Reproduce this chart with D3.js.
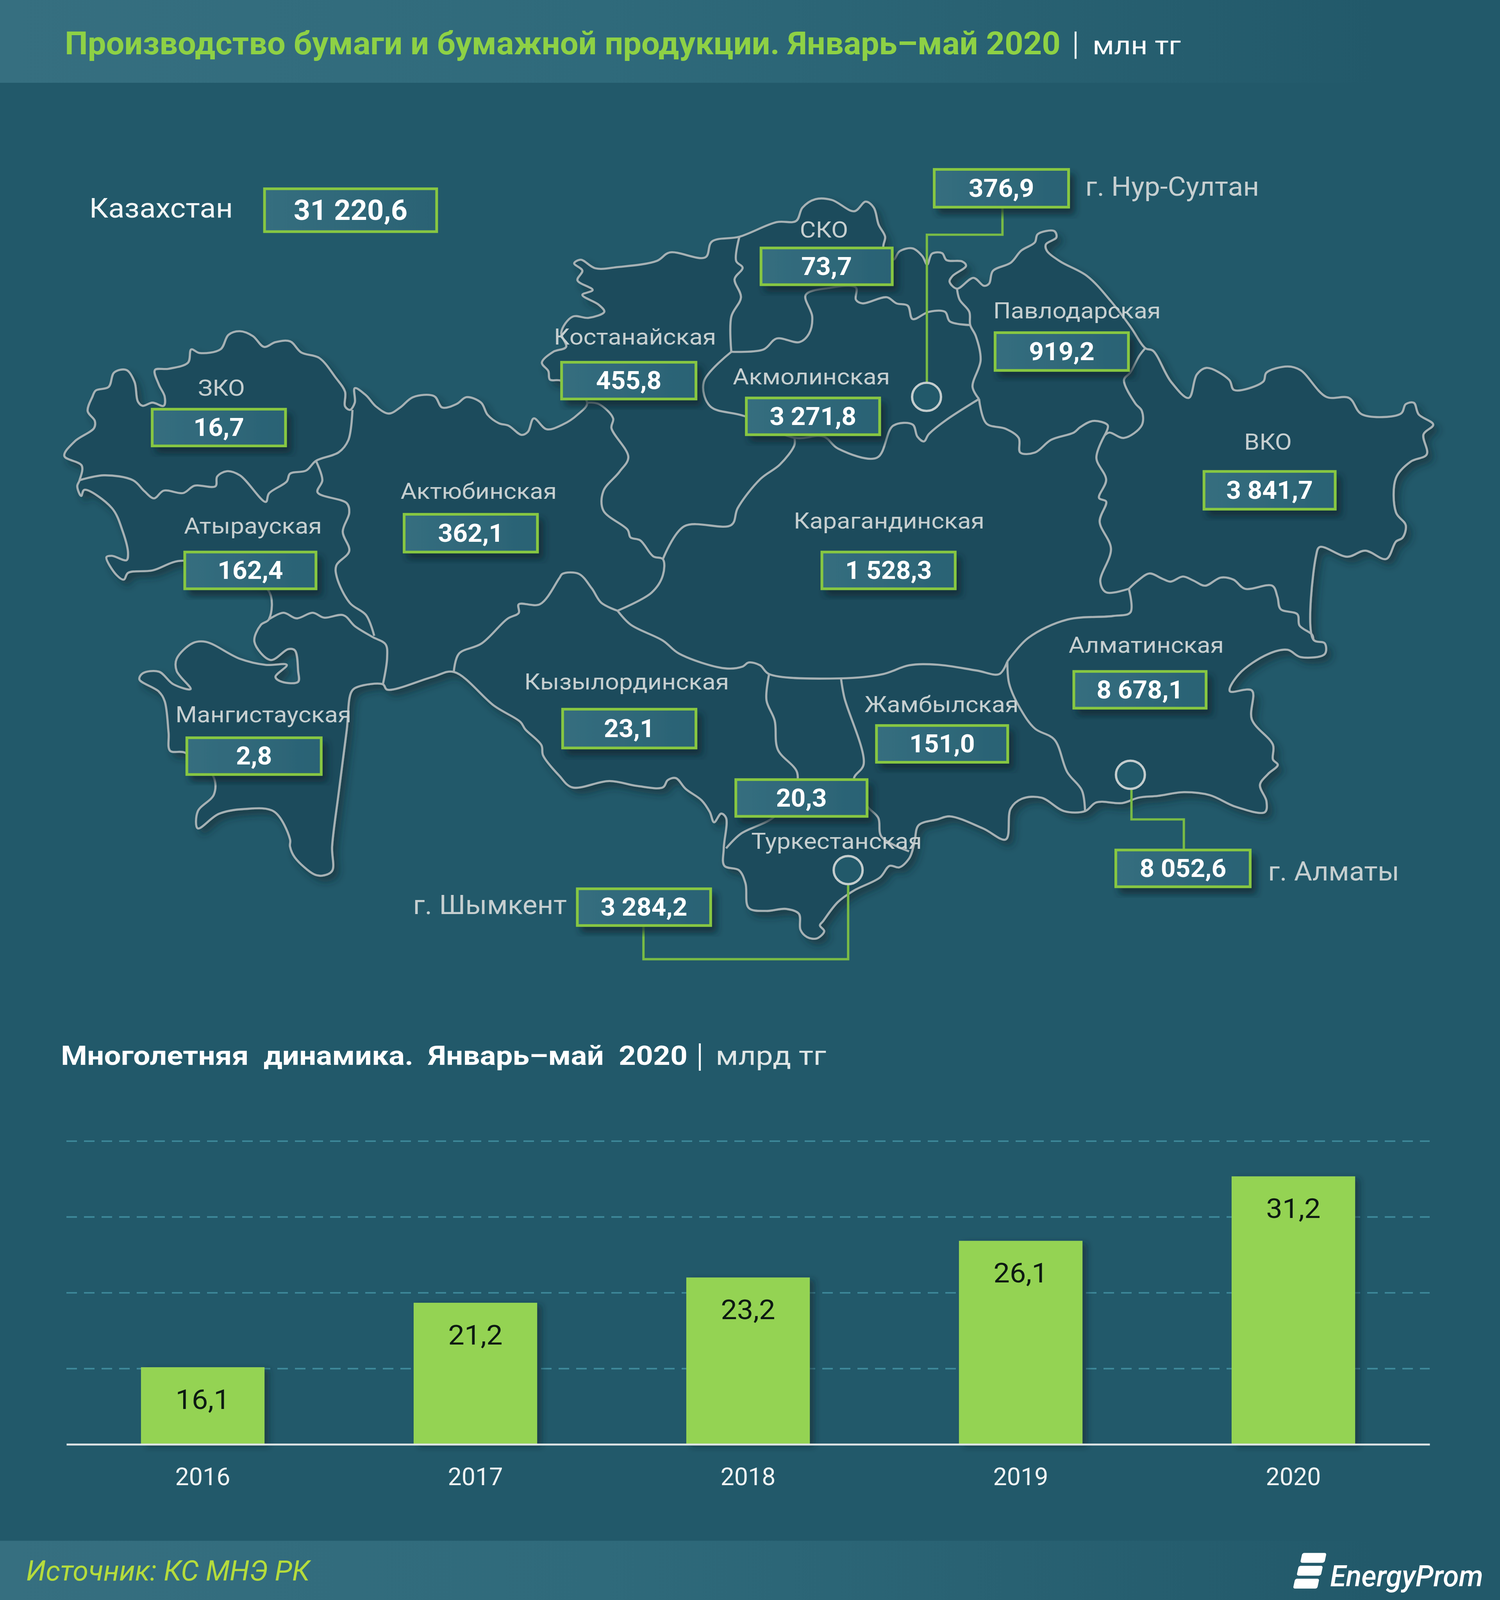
<!DOCTYPE html>
<html>
<head>
<meta charset="utf-8">
<script src="https://cdn.jsdelivr.net/npm/d3@7"></script>
<style>
  html, body { margin: 0; padding: 0; background: #22596a; overflow: hidden; }
  svg { display: block; width: 100vw; height: 100vh; }
  text { font-family: Roboto, "Noto Sans", sans-serif; }
</style>
</head>
<body>
<div id="chart"></div>
<script>
// values, million tenge
var regionNames = ["ЗКО", "Атырауская", "Мангистауская", "Актюбинская", "Костанайская", "СКО", "Акмолинская",
  "Павлодарская", "Карагандинская", "ВКО", "Алматинская", "Жамбылская", "Кызылординская", "Туркестанская"];
var regionValues = ["16,7", "162,4", "2,8", "362,1", "455,8", "73,7", "3 271,8",
  "919,2", "1 528,3", "3 841,7", "8 678,1", "151,0", "23,1", "20,3"];
var cityNames = ["г. Нур-Султан", "г. Алматы", "г. Шымкент"];
var cityValues = ["376,9", "8 052,6", "3 284,2"];
var totalName = "Казахстан";
var totalValue = "31 220,6";

// yearly dynamics, billion tenge
var years = ["2016", "2017", "2018", "2019", "2020"];
var yearValues = [16.1, 21.2, 23.2, 26.1, 31.2];
var gridTicks = [16, 22, 28, 34];

// map outline and inner borders (units of a 1429 x 1568 frame)
var outline = [[61.3,446.9],[71.1,432.6],[89.6,419.5],[90.3,412.4],[83.5,402.9],[88.1,388.7],[91.2,382.7],[103.5,379.2],[108.8,365],[120.5,362.6],[128.2,374.4],[131.3,393.4],[135.9,397.7],[145.2,394.6],[156,397.7],[156.9,388.7],[151.3,376.8],[147.6,362.6],[160.6,361.4],[179.1,355.4],[182.2,342.4],[189.9,345.9],[210,342.4],[217.7,328.1],[228.5,324.6],[240.8,329.3],[251.6,340],[262.4,335.3],[276.3,334.5],[287.1,345.5],[304,350.7],[319.5,369.7],[328.7,383.9],[328.7,398.2],[333.4,401.7],[338,394.6],[338,380.4],[348.8,387.5],[358,398.2],[370.4,405.3],[381.2,399.4],[393.5,389.2],[413.6,388.2],[421.3,399.4],[435.2,395.8],[444.4,389.2],[458.3,394.6],[464.5,406.5],[475.3,414.8],[484.5,417.2],[496.9,426.2],[503,423.1],[508.5,410],[520.8,420.7],[536.2,416],[550.1,406.5],[559.4,394.6],[534.7,373.2],[523.9,372],[522.4,363.7],[516.2,355.4],[527,344.8],[539.3,340],[534.7,325.8],[545.5,310.3],[560.9,311.5],[575.7,305.6],[570.2,298.5],[554.8,289],[564.6,284.2],[550.1,274.7],[554.8,265.2],[547,258.1],[553.2,254.5],[567.1,262.9],[588.7,261.7],[625.7,255.7],[638,247.4],[672,252.2],[678.2,236.7],[704.4,232],[739.9,217.7],[758.4,216.6],[764.5,203.5],[776.9,195.2],[792.3,195.9],[813.9,207],[824.7,197.6],[832.4,203.5],[837,220.1],[843.2,232],[841.6,242.7],[851,254.5],[857.1,246.2],[869.4,243.4],[878.7,251],[883.3,259.3],[887.9,248.6],[897.5,248.1],[901.7,254.9],[916.7,256.2],[920.3,260.5],[907.4,270.5],[904.6,276],[911.7,282.9],[927.4,272.3],[937.3,280.1],[942.3,277.9],[945.9,265.5],[963,257.4],[972.9,245.6],[985.8,237.6],[988.6,229.5],[1004.3,226.4],[1006.4,232.6],[996.4,239.4],[997.2,245.6],[1010,256.2],[1035.6,270.5],[1058.4,295.3],[1076.9,320.1],[1091.1,341.2],[1098.5,343.8],[1115.5,374],[1132.5,390],[1140.2,367],[1149.4,360.5],[1171,372.3],[1175.7,382.2],[1203.4,374],[1206.5,365.2],[1226.6,359.1],[1238.9,362.7],[1263.6,389],[1285.2,390],[1297.5,406.1],[1334.5,405.4],[1339.2,396.1],[1346.9,394.7],[1351.5,406.1],[1365.4,416.1],[1356.1,425.7],[1359.2,445.3],[1343.8,452.4],[1329.9,468.4],[1329.9,502.2],[1339.2,514.7],[1336.1,527.1],[1329.9,530.7],[1320.6,547.8],[1300.6,539.6],[1283.6,545.6],[1257.4,536],[1253.7,545],[1251.2,626.8],[1262,630.4],[1262,641],[1238.9,643.9],[1226.6,636.8],[1208,641],[1180.3,660.6],[1171.6,677.4],[1192.6,676.7],[1192.6,705.1],[1212.7,730],[1212.7,744.3],[1217.3,749.6],[1208,758.5],[1200.3,769.2],[1206.5,785.2],[1205,795.9],[1177.2,790.6],[1152.5,779.2],[1127.8,776.3],[1103.2,779.9],[1084.7,781.7],[1069.2,787],[1044.5,786.3],[1033.7,794.9],[1013.7,794.9],[992.1,781.7],[973.6,782.7],[962.8,792.4],[958.2,822.6],[936.6,811.9],[905,800],[893,803],[875.2,808.6],[871.5,822.9],[869,834.3],[866,841.4],[856.7,850],[847.5,848.5],[838.2,860],[813.5,872.7],[798.1,884.1],[784.2,902.6],[781.1,906.9],[785.2,912.6],[778,919.7],[768.8,918.3],[762.6,911.2],[761.1,895.5],[748.8,890.7],[730.2,892.7],[713.3,889.8],[710.2,865.6],[704,852.8],[690.1,848.5],[689.5,831.4],[691.7,801.5],[687,797.3],[680.3,805.8],[676.2,795.8],[668.5,784.4],[653.1,773],[643.9,762.5],[636.1,764.5],[631.5,771.6],[606.8,770.2],[580.6,765.4],[545.1,771.6],[532.8,760.2],[517.4,740.3],[515.8,730.3],[500.4,714.7],[495.8,707.5],[471.1,691.9],[432.3,658.5],[412,663.4],[368.8,675.8],[364.8,670.6],[341.1,673],[334.9,677.7],[330.3,715.7],[322.6,777.4],[316.4,829.6],[316.4,853.4],[307.1,858.1],[299.4,856.9],[280.9,840.3],[276.3,829.6],[276.3,822.5],[260.9,795.2],[233.1,792.8],[208.4,797.6],[188.4,811.8],[188.4,795.2],[203.8,778.6],[203.2,760.8],[176,737.5],[162.1,735.8],[160.6,718],[156.9,687.2],[151.3,677.7],[132.8,665.8],[135.9,659.9],[151.3,658.2],[165.2,670.6],[181.6,675.3],[168.3,657.5],[168.3,645.6],[183.7,630.2],[196.1,629],[228.5,645.6],[253.2,651.6],[273.2,651.6],[262.4,663.4],[268.6,668.2],[284,668.2],[284,657.5],[280.9,637.3],[274.7,636.1],[257.8,646.8],[242.4,629],[248.5,612.4],[256.2,606.9],[255.3,578],[174.5,549.5],[145.2,559],[122,561.4],[118,568],[111.2,563.7],[101.4,546],[106.6,544.7],[120.5,549],[122,542.4],[117,521],[106.6,497.9],[80.4,480],[77.3,486],[73.6,476.5],[75.8,470.6],[77.9,456.3]];

var innerBorders = [
  // ЗКО south
  [[75.8,470.6],[98.9,465.8],[126.7,470.6],[137.5,481.3],[146.7,488.4],[156,480.8],[174.5,483.2],[185.3,476],[205.3,476.5],[206.9,467],[216.1,461.8],[228.5,465.8],[253.2,491.9],[256.2,483.6],[273.2,471.8],[276.3,464.2],[291.7,461.1],[301,451.6],[322.6,443.3],[331.8,431.4],[335.8,401.7]],
  // Атырауская / Актюбинская
  [[301,451.6],[307.1,470.6],[302.5,482.5],[330.3,493.1],[332.7,502.6],[326.5,521],[332.7,540],[320.4,554.2],[321,566.1],[333.4,591],[348.8,602.9],[356.5,623.1]],
  // Атырауская / Мангистауская
  [[256.2,606.9],[270.1,600.5],[282.5,606],[297.9,600.5],[308.7,605.3],[327.2,602.9],[338,613.6],[355,624.3],[367.3,631.4],[368.8,644.4],[364.8,670.6]],
  // Актюбинская / Костанайская
  [[559.4,394.6],[570.2,395.8],[584.1,410],[582.5,419.5],[598.6,448],[590.2,462.3],[574.8,481.3],[574.8,500.3],[597.9,519.2],[600.7,526.7],[609.9,529.5],[622.3,545.2],[631.5,548],[631.5,563.7],[620.7,580.8],[588.3,598.5]],
  // Актюбинская / Кызылординская
  [[432.3,658.5],[437.2,640.6],[458.8,630.6],[483.4,606.4],[494.2,600.7],[494.2,592.2],[514.3,592.2],[532.8,566.6],[535.9,562.3],[551.3,562.3],[563.7,576.5],[572.9,590.8],[588.3,598.5]],
  // Кызылординская, Жамбылская / Карагандинская
  [[588.3,598.5],[600.7,612.1],[631.5,627.8],[647,640.6],[690.1,654.9],[707.1,653.4],[713.3,649.2],[724.1,652],[732.7,660.6],[801.2,664.8],[841.3,660.6],[866,652],[893.1,651.4],[930.4,657.1],[952,660.6],[959.7,648.2]],
  // Карагандинская / Алматинская
  [[959.7,648.2],[979.8,625],[1016.8,607.2],[1060,603.7],[1076.9,600.1],[1075.4,577]],
  // ВКО / Алматинская
  [[1075.4,577],[1084,569],[1095,562],[1107,567],[1115,570],[1127,565],[1137,569],[1148,574],[1163,566],[1175,568],[1186,577],[1212,574],[1217,585],[1220,597],[1236,602],[1238,613],[1250,622],[1251.2,626.8]],
  // Карагандинская / ВКО
  [[1075.4,577],[1053.8,580.5],[1048.2,569.9],[1058.4,537.8],[1047.6,511.1],[1053.8,491.5],[1047,488],[1053.8,470.2],[1044.5,448.8],[1052.3,426.7]],
  // Павлодарская / ВКО
  [[1052.3,426.7],[1056.9,423.9],[1070.8,429.2],[1087.7,416.8],[1087.7,402.5],[1081.6,395.4],[1070.8,372.3],[1076.9,364.8],[1085.4,348.6],[1091.1,341.2]],
  // Павлодарская / Карагандинская
  [[1052.3,426.7],[1055.3,416.8],[1041.5,412.5],[1029.1,418.6],[1023,423.9],[1001.4,431],[985.9,443.5],[972,443.5],[970.5,429.2],[958.2,420.3],[939.7,415],[932.7,391]],
  // Акмолинская / Павлодарская
  [[911.7,282.9],[914.2,293.7],[923.4,305.6],[924.3,318.6],[929.6,329.3],[934.2,353],[926.5,379.2],[932.7,391]],
  // Акмолинская / Карагандинская, Костанайская
  [[932.7,391],[900.3,412.4],[884.8,425.5],[880.2,432.6],[874,427.9],[869.4,416],[850.9,417.2],[835.5,448.5],[798.5,439.7],[784.6,427.8],[756.8,429],[709,407.7],[676.6,398.2],[670.4,374.4],[696.7,344.8]],
  // Костанайская / Карагандинская
  [[756.8,429],[756.8,436.2],[743,455.2],[724.4,469.4],[702.8,497.9],[696.7,514.5],[651.9,515.7],[631.5,548]],
  // Костанайская / СКО
  [[696.7,344.8],[696.7,310.3],[705.9,291.3],[699.8,273.5],[707.5,262.4],[701.3,255.7],[704.4,232]],
  // СКО / Акмолинская
  [[696.7,344.8],[727.5,342.4],[739.9,331.7],[761.5,335.3],[770.7,327],[773.8,310.3],[767.6,289],[789.2,282.3],[815.4,281.8],[815.4,293.7],[821.6,297.3],[844.8,291.3],[854,297.3],[864.8,299.6],[869.4,312.7],[884.9,305.6],[900.3,305.6],[904.9,315],[924.3,318.6]],
  // Кызылординская / Туркестанская
  [[732.7,660.6],[730.2,686.2],[738,706.1],[741,734.6],[759.5,757.4],[755,780],[736.4,801.5],[705.6,817.2],[691.7,831.4]],
  // Туркестанская / Жамбылская
  [[801.2,664.8],[804.3,683.3],[822.8,748.8],[813.5,763],[820,780],[827.4,791.6],[836.7,801.5],[839.8,820],[866,834.3]],
  // Жамбылская / Алматинская
  [[959.7,648.2],[961.3,669.6],[972,694.5],[985.9,714],[1004.4,724.7],[1016.8,756.8],[1030.7,774.6],[1033.7,794.9]]
];

// callouts from a city box to its ring on the map
var cityLinks = [
  [[955,203],[955,230],[883,230],[883,375]],
  [[1077.9,774],[1077.9,803],[1127.8,803],[1127.8,833]],
  [[613,907],[613,940],[808,940],[808,867]]
];
var cityRings = [[882.7,388.9],[1076.9,759.3],[808,852.7]];

// box corners [x0, x1, y0, y1] and label anchor [x, y], same frame as the map
var regionBoxes = [[145,272,401,437],[176,301,541,577],[178,306,723,759],[385,512,504,541],[535,663,355,391],[725,850,243,279],[711,838,390,426],
  [948,1075,326,363],[783,910,541,577],[1147,1272,462,499],[1023,1149,658,694],[835,960,711,747],[536,663,695,733],[701,826,764,800]];
var regionLabelPos = [[211,380],[241,515],[251,700],[456,481],[605,330],[785,225],[773,369],
  [1026,304],[847,510],[1208,433],[1092,632],[897,690],[597,668],[797,824]];
var cityBoxes = [[890,1018,166,203],[1063,1191,833,869],[550,677,871,907]];
var cityLabelPos = [[1034,183,"start"],[1208,854,"start"],[540,887,"end"]];

var width = 3840, height = 4214;
var x = d3.scaleLinear().domain([0, 1429]).range([0, width]);
var y = d3.scaleLinear().domain([0, 1568]).range([0, height]);

// the window can be shorter than the picture, so the whole frame is fitted to it
var svg = d3.select("#chart").append("svg")
  .attr("viewBox", [0, 0, width, height])
  .attr("preserveAspectRatio", "none");

var defs = svg.append("defs");

function shadow(id, dx, dy, blur, opacity) {
  var f = defs.append("filter").attr("id", id)
    .attr("x", "-20%").attr("y", "-20%").attr("width", "150%").attr("height", "150%");
  f.append("feDropShadow").attr("dx", dx).attr("dy", dy).attr("stdDeviation", blur)
    .attr("flood-color", "#0a2533").attr("flood-opacity", opacity);
}
shadow("mapShadow", 12, 14, 10, 0.55);
shadow("boxShadow", 12, 16, 9, 0.75);
shadow("barShadow", 12, 6, 8, 0.55);

function bandGradient(id) {
  var g = defs.append("linearGradient").attr("id", id);
  g.append("stop").attr("offset", "0%").attr("stop-color", "#366f80");
  g.append("stop").attr("offset", "40%").attr("stop-color", "#2f6a7b");
  g.append("stop").attr("offset", "92%").attr("stop-color", "#22596a");
}
bandGradient("bandGrad");
var boxGrad = defs.append("linearGradient").attr("id", "boxGrad");
boxGrad.append("stop").attr("offset", "0%").attr("stop-color", "#356e7f");
boxGrad.append("stop").attr("offset", "100%").attr("stop-color", "#2a6274");

// puts a text on the page and sets its width, the original face has other proportions
function label(parent, str, px, py, size, opts) {
  opts = opts || {};
  var t = parent.append("text")
    .attr("x", px).attr("y", py)
    .attr("font-size", size)
    .attr("font-weight", opts.weight || 400)
    .attr("font-style", opts.style || "normal")
    .attr("fill", opts.fill || "#ffffff")
    .attr("text-anchor", opts.anchor || "middle")
    .text(str);
  var len = opts.width || t.node().getComputedTextLength() * (opts.squeeze || 1);
  t.attr("textLength", len).attr("lengthAdjust", "spacingAndGlyphs");
  return t;
}

// background + bands
svg.append("rect").attr("width", width).attr("height", height).attr("fill", "#22596a");
svg.append("rect").attr("width", width).attr("height", 218).attr("fill", "url(#bandGrad)");
svg.append("rect").attr("y", 4058).attr("width", width).attr("height", height - 4058).attr("fill", "url(#bandGrad)");

// header
label(svg, "Производство бумаги и бумажной продукции. Январь–май 2020", 166, 143, 84,
  { weight: 700, fill: "#8ed145", anchor: "start", width: 2549 });
svg.append("rect").attr("x", 2751).attr("y", 83).attr("width", 5).attr("height", 72).attr("fill", "#eaf2f2");
label(svg, "млн тг", 2797, 143, 68, { anchor: "start", width: 226 });

// map
var mapLine = d3.line().x(d => x(d[0])).y(d => y(d[1]));
var map = svg.append("g");

map.append("path")
  .attr("d", mapLine.curve(d3.curveCatmullRomClosed.alpha(0.5))(outline))
  .attr("fill", "#1c4b5c")
  .attr("stroke", "#a6b1b4")
  .attr("stroke-width", 5.5)
  .attr("stroke-linejoin", "round")
  .attr("filter", "url(#mapShadow)");

map.selectAll(".border")
  .data(innerBorders)
  .join("path")
  .attr("class", "border")
  .attr("d", mapLine.curve(d3.curveCatmullRom.alpha(0.5)))
  .attr("fill", "none")
  .attr("stroke", "#a6b1b4")
  .attr("stroke-width", 5.5)
  .attr("stroke-linejoin", "round");

// callout lines and rings
var straight = d3.line().x(d => x(d[0])).y(d => y(d[1]));
map.selectAll(".link")
  .data(cityLinks)
  .join("path")
  .attr("class", "link")
  .attr("d", straight)
  .attr("fill", "none")
  .attr("stroke", "#79bb45")
  .attr("stroke-width", 6);

map.selectAll(".ring")
  .data(cityRings)
  .join("circle")
  .attr("class", "ring")
  .attr("cx", d => x(d[0]))
  .attr("cy", d => y(d[1]))
  .attr("r", 37)
  .attr("fill", "#22596a")
  .attr("stroke", "#c3cccd")
  .attr("stroke-width", 6);

// value boxes
function valueBox(box, value, size, useShadow) {
  var bx = x(box[0]), by = y(box[2]), bw = x(box[1]) - x(box[0]), bh = y(box[3]) - y(box[2]);
  svg.append("rect")
    .attr("x", bx).attr("y", by).attr("width", bw).attr("height", bh)
    .attr("fill", "url(#boxGrad)")
    .attr("stroke", "#87c742")
    .attr("stroke-width", 7)
    .attr("filter", useShadow ? "url(#boxShadow)" : null);
  label(svg, value, bx + bw / 2, by + bh / 2 + size * 0.34, size, { weight: 700, squeeze: 1 });
}

regionNames.forEach(function(name, i) {
  var p = regionLabelPos[i];
  label(svg, name, x(p[0]), y(p[1]) + 21, 60, { fill: "#c6cfd0", squeeze: 1.05 });
  valueBox(regionBoxes[i], regionValues[i], 66, true);
});

cityNames.forEach(function(name, i) {
  var p = cityLabelPos[i];
  label(svg, name, x(p[0]), y(p[1]) + 24, 70, { fill: "#c6cfd0", anchor: p[2], squeeze: 1.02 });
  valueBox(cityBoxes[i], cityValues[i], 66, true);
});

label(svg, totalName, x(85), y(204) + 25, 72, { fill: "#f2f5f5", anchor: "start", width: 368 });
valueBox([252, 416, 185, 227], totalValue, 74, false);

// bar chart
var barX = d3.scaleBand().domain(years).range([170, 3660]).paddingInner(0.547).paddingOuter(0.2735);
var barY = d3.scaleLinear().domain([10, 34]).range([3804, 3005]);

label(svg, "Многолетняя  динамика.  Январь–май  2020", 156, 2805, 70,
  { weight: 700, anchor: "start", width: 1604 }).style("white-space", "pre");
svg.append("rect").attr("x", 1789).attr("y", 2748).attr("width", 5).attr("height", 72).attr("fill", "#ffffff");
label(svg, "млрд тг", 1832, 2805, 70, { fill: "#dfe6e6", anchor: "start", width: 283 });

var grid = svg.append("g")
  .attr("transform", "translate(170,0)")
  .call(d3.axisLeft(barY).tickValues(gridTicks).tickSize(-3490).tickFormat(""));
grid.select(".domain").remove();
grid.selectAll("line")
  .attr("stroke", "#3f8a9b")
  .attr("stroke-width", 4)
  .attr("stroke-dasharray", "27 18");

svg.selectAll(".bar")
  .data(years)
  .join("rect")
  .attr("class", "bar")
  .attr("x", d => barX(d))
  .attr("y", (d, i) => barY(yearValues[i]))
  .attr("width", barX.bandwidth())
  .attr("height", (d, i) => barY(10) - barY(yearValues[i]))
  .attr("fill", "#94d352")
  .attr("filter", "url(#barShadow)");

years.forEach(function(yr, i) {
  label(svg, String(yearValues[i]).replace(".", ","), barX(yr) + barX.bandwidth() / 2,
    barY(yearValues[i]) + 110, 72, { fill: "#0d1a12", squeeze: 1.03 });
});

var xAxis = svg.append("g")
  .attr("transform", "translate(0,3804)")
  .call(d3.axisBottom(barX).tickSize(0).tickPadding(0));
xAxis.select(".domain").attr("stroke", "#dfe5e6").attr("stroke-width", 5);
xAxis.selectAll("text").remove();
years.forEach(function(yr) {
  label(svg, yr, barX(yr) + barX.bandwidth() / 2, 3912, 64, { fill: "#f0f3f3", squeeze: 0.98 });
});

// footer
label(svg, "Источник: КС МНЭ РК", 67, 4163, 74, { style: "italic", fill: "#b5dc3c", anchor: "start", width: 726 });

// logo: three slanted strips and the name
var logo = svg.append("g").attr("transform", "translate(3310,4090) skewX(-12)");
logo.selectAll("rect")
  .data([0, 1, 2])
  .join("rect")
  .attr("x", d => 24 - d * 2)
  .attr("y", d => d * 34)
  .attr("width", 62)
  .attr("height", 26)
  .attr("rx", 5)
  .attr("fill", "#ffffff");
label(svg, "EnergyProm", 3405, 4178, 78, { weight: 500, style: "italic", anchor: "start", width: 392 });
</script>
</body>
</html>
